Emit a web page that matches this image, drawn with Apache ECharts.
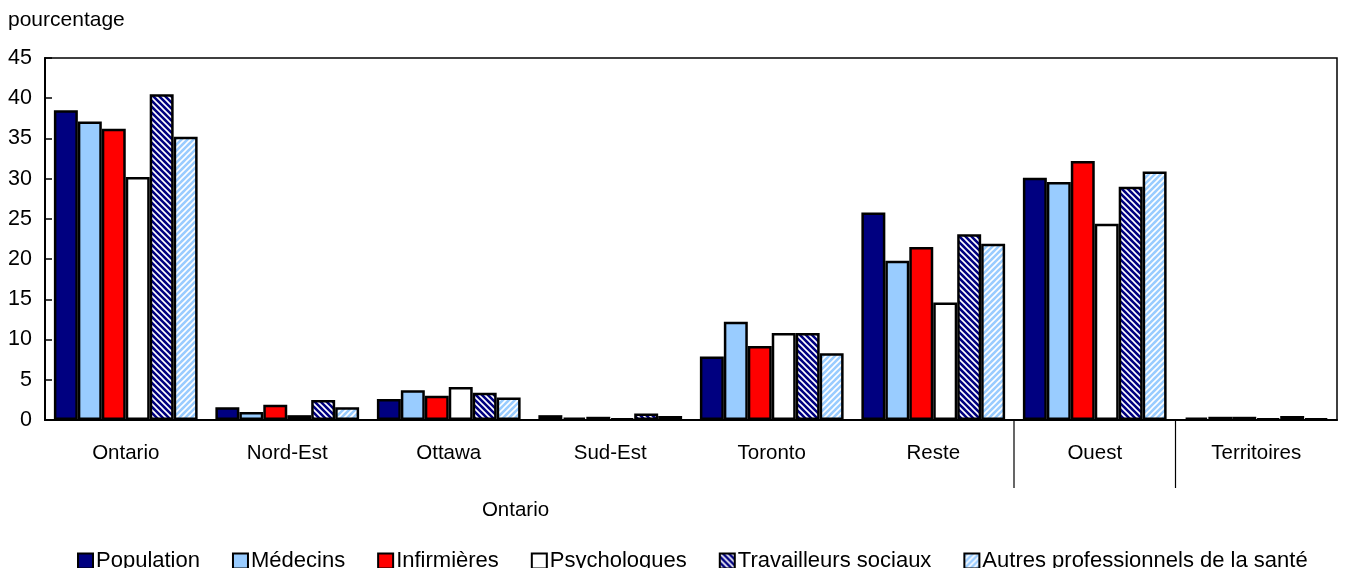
<!DOCTYPE html>
<html>
<head>
<meta charset="utf-8">
<script src="https://cdn.jsdelivr.net/npm/echarts@6/dist/echarts.min.js"></script>
<style>
  html, body { margin: 0; padding: 0; background: #fff; }
  #chart { width: 1345px; height: 568px; }
</style>
</head>
<body>
<div id="chart"></div>
<script>
// données
const categories = ['Ontario', 'Nord-Est', 'Ottawa', 'Sud-Est', 'Toronto', 'Reste', 'Ouest', 'Territoires'];
const seriesNames = ['Population', 'Médecins', 'Infirmières', 'Psychologues', 'Travailleurs sociaux', 'Autres professionnels de la santé'];
const population = [38.5, 1.6, 2.6, 0.6, 7.9, 25.8, 30.1, 0.3];
const medecins = [37.1, 1.0, 3.7, 0.3, 12.2, 19.8, 29.6, 0.4];
const infirmieres = [36.2, 1.9, 3.0, 0.4, 9.2, 21.5, 32.2, 0.4];
const psychologues = [30.2, 0.6, 4.1, 0.2, 10.8, 14.6, 24.4, 0.2];
const travailleurs = [40.5, 2.5, 3.4, 0.8, 10.8, 23.1, 29.0, 0.5];
const autres = [35.2, 1.6, 2.8, 0.5, 8.3, 21.9, 30.9, 0.2];
const yTicks = [0, 5, 10, 15, 20, 25, 30, 35, 40, 45];

// motifs hachurés
function makeStripes(bg, fg, dir) {
  const c = document.createElement('canvas');
  c.width = 6; c.height = 6;
  const ctx = c.getContext('2d');
  ctx.fillStyle = bg;
  ctx.fillRect(0, 0, 6, 6);
  ctx.strokeStyle = fg;
  ctx.lineWidth = 1.6;
  ctx.beginPath();
  if (dir === 'down') {
    ctx.moveTo(-3, -3); ctx.lineTo(9, 9);
    ctx.moveTo(-3, 3); ctx.lineTo(3, 9);
    ctx.moveTo(3, -3); ctx.lineTo(9, 3);
  } else {
    ctx.moveTo(-3, 9); ctx.lineTo(9, -3);
    ctx.moveTo(-3, 3); ctx.lineTo(3, -3);
    ctx.moveTo(3, 9); ctx.lineTo(9, 3);
  }
  ctx.stroke();
  return c;
}

const colors = [
  '#000080',
  '#99ccff',
  '#ff0000',
  '#ffffff',
  { image: makeStripes('#000080', '#ffffff', 'down'), repeat: 'repeat' },
  { image: makeStripes('#99ccff', '#ffffff', 'up'), repeat: 'repeat' }
];
const values = [population, medecins, infirmieres, psychologues, travailleurs, autres];

const font = 'Liberation Sans, Arial, sans-serif';
const chart = echarts.init(document.getElementById('chart'));

const option = {
  animation: false,
  textStyle: { fontFamily: font, color: '#000' },
  grid: { left: 45, right: 8, top: 58, bottom: 148, show: true, borderColor: '#000', borderWidth: 1.5 },
  legend: {
    top: 545,
    left: 72,
    itemWidth: 15,
    itemHeight: 15,
    itemGap: 32,
    textStyle: { fontSize: 22, color: '#000', fontFamily: font, padding: [0, 0, 0, -2] },
    data: seriesNames.map(n => ({ name: n, icon: 'rect', itemStyle: { borderColor: '#000', borderWidth: 2 } }))
  },
  xAxis: {
    type: 'category',
    data: categories,
    axisLine: { lineStyle: { color: '#000', width: 2 } },
    axisTick: { show: false },
    axisLabel: { fontSize: 20.5, color: '#000', margin: 23, fontFamily: font }
  },
  yAxis: {
    type: 'value',
    name: 'pourcentage',
    nameLocation: 'end',
    nameGap: 27,
    nameTextStyle: { fontSize: 21, color: '#000', align: 'left', padding: [0, 0, 0, -37], fontFamily: font },
    min: yTicks[0],
    max: yTicks[yTicks.length - 1],
    interval: 5,
    splitLine: { show: false },
    axisLine: { show: true, lineStyle: { color: '#000', width: 2 } },
    axisTick: { show: true, inside: true, length: 7, lineStyle: { color: '#000', width: 1.5 } },
    axisLabel: { fontSize: 21.5, color: '#000', margin: 13, fontFamily: font }
  },
  series: seriesNames.map((name, i) => ({
    name: name,
    type: 'bar',
    data: values[i],
    barGap: '0%',
    barCategoryGap: '11%',
    itemStyle: { color: colors[i], borderColor: '#000', borderWidth: 2.5 }
  }))
};
chart.setOption(option);

// séparateurs et étiquette de groupe
const c5 = chart.convertToPixel({ xAxisIndex: 0 }, 5);
const c6 = chart.convertToPixel({ xAxisIndex: 0 }, 6);
const c7 = chart.convertToPixel({ xAxisIndex: 0 }, 7);
const c0 = chart.convertToPixel({ xAxisIndex: 0 }, 0);
const y0 = chart.convertToPixel({ yAxisIndex: 0 }, 0);
const sep1 = (c5 + c6) / 2;
const sep2 = (c6 + c7) / 2;
const half = (c6 - c5) / 2;
const groupMid = ((c0 - half) + sep1) / 2 - 14;

chart.setOption({
  graphic: [
    { type: 'line', shape: { x1: sep1, y1: y0, x2: sep1, y2: y0 + 68 }, style: { stroke: '#000', lineWidth: 1.2 } },
    { type: 'line', shape: { x1: sep2, y1: y0, x2: sep2, y2: y0 + 68 }, style: { stroke: '#000', lineWidth: 1.2 } },
    { type: 'text', x: groupMid, y: y0 + 90, style: { text: 'Ontario', fontSize: 20.5, fill: '#000', fontFamily: font, align: 'center', verticalAlign: 'middle' } }
  ]
});
</script>
</body>
</html>
